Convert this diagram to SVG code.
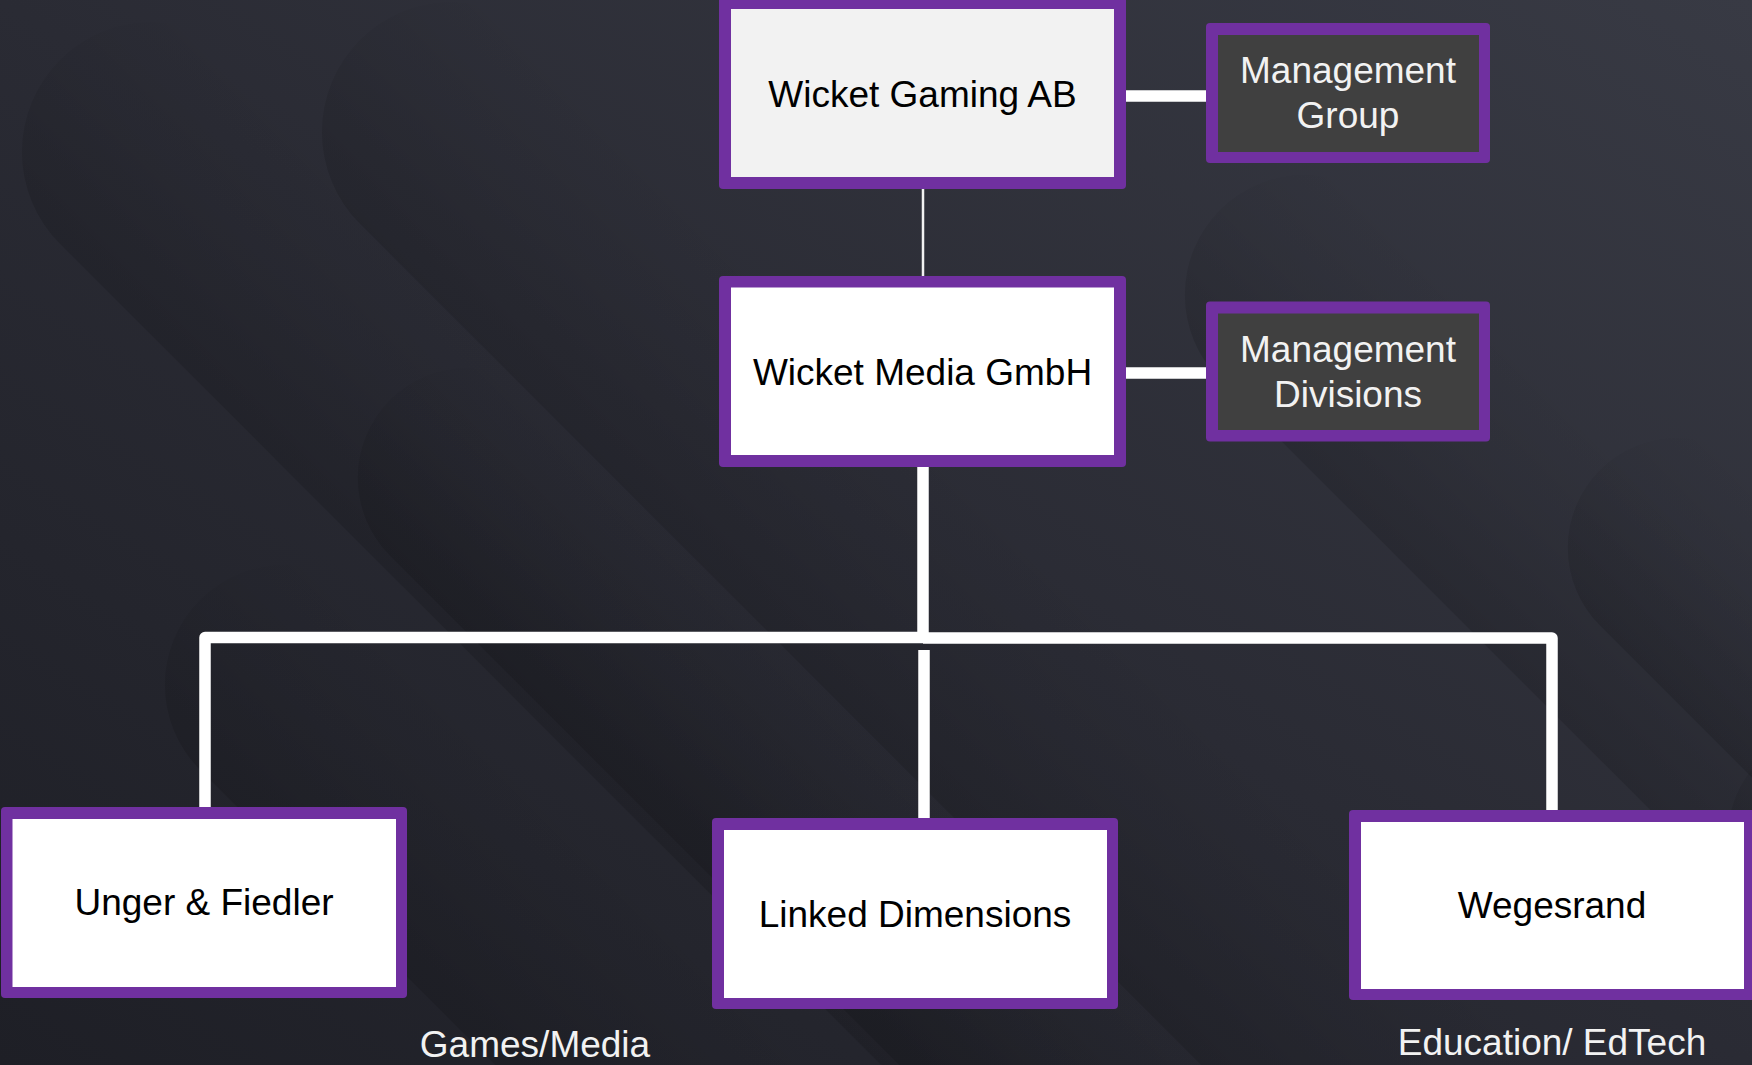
<svg xmlns="http://www.w3.org/2000/svg" width="1752" height="1065" viewBox="0 0 1752 1065">
<defs>
<linearGradient id="bg" x1="1" y1="0" x2="0" y2="1">
<stop offset="0" stop-color="#383a44"/>
<stop offset="0.5" stop-color="#2a2b34"/>
<stop offset="1" stop-color="#1e1f26"/>
</linearGradient>
<linearGradient id="band" x1="0" y1="0" x2="1" y2="0">
<stop offset="0" stop-color="#000" stop-opacity="0.13"/>
<stop offset="0.5" stop-color="#000" stop-opacity="0.05"/>
<stop offset="1" stop-color="#000" stop-opacity="0"/>
</linearGradient>
<style>
.frame{fill:#7030a0}
.light{fill:#ffffff}
.grey{fill:#f2f2f2}
.dark{fill:#404040}
.t{font-family:"Liberation Sans",Arial,sans-serif;font-size:37px;text-anchor:middle}
.tb{fill:#000}
.tw{fill:#f2f2f2}
.thick{fill:none;stroke:#ffffff;stroke-width:11.5;stroke-linejoin:round}
.thin{fill:none;stroke:#f2f2f2;stroke-width:2.5}
.b{fill:url(#band)}
</style>
</defs>
<g id="background">
<rect x="0" y="0" width="1752" height="1065" fill="url(#bg)"/>
<rect class="b" x="-130" y="0" width="260" height="2400" rx="130" transform="translate(60,60) rotate(-45)"/>
<rect class="b" x="-130" y="0" width="260" height="2400" rx="130" transform="translate(360,40) rotate(-45)"/>
<rect class="b" x="-110" y="0" width="220" height="2000" rx="110" transform="translate(390,400) rotate(-45)"/>
<rect class="b" x="-120" y="0" width="240" height="2000" rx="120" transform="translate(1220,210) rotate(-45)"/>
<rect class="b" x="-110" y="0" width="220" height="1600" rx="110" transform="translate(1600,470) rotate(-45)"/>
<rect class="b" x="-110" y="0" width="220" height="1200" rx="110" transform="translate(1760,760) rotate(-45)"/>
<rect class="b" x="-120" y="0" width="240" height="1600" rx="120" transform="translate(200,600) rotate(-45)"/>
</g>
<g id="connectors">
<path class="thin" d="M923,189 V282"/>
<path class="thick" d="M1124,96 H1207" stroke-linejoin="miter"/>
<path class="thick" d="M1124,373 H1207" stroke-linejoin="miter"/>
<path class="thick" d="M923,462 V637"/>
<path class="thick" d="M205,808 V637.5 H923"/>
<path class="thick" d="M923,638 H1552 V811"/>
<path class="thick" d="M924,650 V819"/>
</g>
<g id="node-wicket-gaming">
<rect class="frame" x="719" y="-4" width="407" height="193" rx="4"/>
<rect class="grey" x="731" y="9" width="383" height="168"/>
<text class="t tb" x="922.5" y="107">Wicket Gaming AB</text>
</g>
<g id="node-management-group">
<rect class="frame" x="1206" y="23" width="284" height="140" rx="4"/>
<rect class="dark" x="1218" y="35" width="261" height="117"/>
<text class="t tw" x="1348" y="83">Management</text>
<text class="t tw" x="1348" y="128">Group</text>
</g>
<g id="node-wicket-media">
<rect class="frame" x="719" y="276" width="407" height="191" rx="4"/>
<rect class="light" x="731" y="287.5" width="383" height="167.5"/>
<text class="t tb" x="922.5" y="385">Wicket Media GmbH</text>
</g>
<g id="node-management-divisions">
<rect class="frame" x="1206" y="301.5" width="284" height="140" rx="4"/>
<rect class="dark" x="1218" y="313.5" width="261" height="116.5"/>
<text class="t tw" x="1348" y="362">Management</text>
<text class="t tw" x="1348" y="407">Divisions</text>
</g>
<g id="node-unger-fiedler">
<rect class="frame" x="1" y="807" width="406" height="191" rx="4"/>
<rect class="light" x="12.5" y="819" width="383.5" height="168"/>
<text class="t tb" x="204" y="915">Unger &amp; Fiedler</text>
</g>
<g id="node-linked-dimensions">
<rect class="frame" x="712" y="818" width="406" height="191" rx="4"/>
<rect class="light" x="724" y="830" width="383" height="168"/>
<text class="t tb" x="915" y="927">Linked Dimensions</text>
</g>
<g id="node-wegesrand">
<rect class="frame" x="1349" y="810" width="415" height="190" rx="4"/>
<rect class="light" x="1361" y="822" width="383" height="167"/>
<text class="t tb" x="1552" y="918">Wegesrand</text>
</g>
<g id="labels">
<text class="t tw" x="535" y="1057">Games/Media</text>
<text class="t tw" x="1552" y="1055">Education/ EdTech</text>
</g>
</svg>
